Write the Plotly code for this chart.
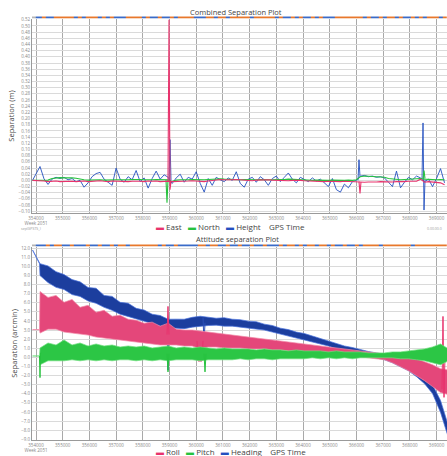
import plotly.graph_objects as go

# ---------------- data: Combined Separation Plot (m) ----------------
TIME_SEP = [353870,
    354150, 354300, 354450, 354600, 354750, 354900, 355050, 355200, 355350, 355500,
    355650, 355800, 355950, 356100, 356250, 356400, 356550, 356700, 356850, 357000,
    357150, 357300, 357450, 357600, 357750, 357900, 358050, 358200, 358350, 358500,
    358650, 358800, 358950, 359100, 359250, 359400, 359550, 359700, 359850, 360000,
    360150, 360300, 360450, 360600, 360750, 360900, 361050, 361200, 361350, 361500,
    361650, 361800, 361950, 362100, 362250, 362400, 362550, 362700, 362850, 363000,
    363150, 363300, 363450, 363600, 363750, 363900, 364050, 364200, 364350, 364500,
    364650, 364800, 364950, 365100, 365250, 365400, 365550, 365700, 365850, 366000,
    366150, 366300, 366450, 366600, 366750, 366900, 367050, 367200, 367350, 367500,
    367650, 367800, 367950, 368100, 368250, 368400, 368550, 368700, 368850, 369000,
    369150, 369300]

EAST = [0.0,
    0.000, -0.002, -0.004, -0.003, -0.002, -0.004, -0.003, -0.002, -0.003, -0.004,
    -0.003, -0.002, -0.004, -0.003, -0.002, -0.001, -0.003, -0.004, -0.002, -0.003,
    -0.002, -0.003, -0.004, -0.003, -0.002, -0.003, -0.004, -0.002, -0.003, -0.002,
    -0.004, -0.003, -0.003, -0.004, -0.004, -0.002, -0.003, -0.002, -0.001, -0.002,
    -0.003, -0.004, -0.002, 0.000, 0.002, 0.003, 0.002, 0.001, 0.002, 0.003,
    0.002, 0.001, 0.000, -0.001, 0.001, 0.002, 0.003, 0.002, 0.001, 0.000,
    -0.001, -0.002, -0.001, 0.000, 0.001, 0.000, -0.001, -0.002, -0.003, -0.002,
    -0.003, -0.004, -0.003, -0.004, -0.005, -0.004, -0.003, -0.004, -0.003, -0.004,
    -0.005, -0.006, -0.005, -0.006, -0.005, -0.004, -0.005, -0.006, -0.005, -0.004,
    -0.005, -0.004, -0.003, -0.004, -0.003, 0.004, -0.006, -0.004, -0.005, -0.006,
    -0.008, -0.014]

NORTH = [0.0,
    0.000, 0.002, 0.001, 0.006, 0.008, 0.009, 0.008, 0.009, 0.008, 0.007,
    0.004, 0.002, 0.001, 0.002, 0.003, 0.002, 0.001, 0.002, 0.003, 0.002,
    0.002, 0.001, 0.002, 0.003, 0.004, 0.003, 0.002, 0.001, 0.002, 0.003,
    0.002, 0.001, 0.002, -0.004, 0.001, 0.002, 0.001, 0.002, 0.003, 0.002,
    0.001, 0.002, 0.003, 0.004, 0.004, 0.005, 0.004, 0.003, 0.004, 0.003,
    0.002, 0.003, 0.002, 0.001, 0.002, 0.003, 0.002, 0.001, 0.002, 0.003,
    0.002, 0.003, 0.004, 0.003, 0.002, 0.003, 0.002, 0.001, 0.000, 0.001,
    0.000, -0.001, 0.000, 0.001, 0.000, -0.001, 0.000, 0.001, 0.000, 0.002,
    0.012, 0.014, 0.013, 0.012, 0.013, 0.012, 0.010, 0.006, 0.004, 0.003,
    0.002, 0.003, 0.004, 0.005, 0.006, 0.006, 0.004, 0.003, 0.002, 0.002,
    0.003, 0.002]

HEIGHT = [0.0,
    0.045, 0.005, -0.013, 0.004, 0.010, 0.006, 0.010, 0.002, 0.006, -0.004,
    0.000, -0.022, -0.008, 0.012, 0.022, 0.026, 0.004, -0.006, -0.016, 0.040,
    0.004, -0.006, 0.012, 0.002, 0.032, -0.004, 0.008, -0.025, 0.006, 0.030,
    0.004, 0.018, 0.010, -0.010, 0.008, 0.020, -0.006, 0.010, 0.004, 0.028,
    -0.010, -0.038, 0.006, -0.016, 0.010, 0.002, -0.004, 0.008, 0.000, 0.028,
    -0.010, -0.022, 0.004, 0.010, -0.006, 0.012, 0.002, -0.016, 0.006, 0.014,
    -0.004, 0.010, 0.024, 0.004, -0.008, 0.010, 0.002, -0.004, 0.008, -0.002,
    0.004, -0.008, -0.020, 0.006, -0.030, -0.038, -0.012, -0.024, -0.004, 0.000,
    0.014, 0.016, 0.012, 0.014, 0.010, 0.012, 0.008, -0.006, -0.020, 0.030,
    -0.024, -0.006, 0.010, 0.002, 0.014, 0.008, -0.004, 0.004, -0.020, 0.006,
    0.038, -0.008]

# isolated spikes (GPS time, value)
EAST_SPIKE_T = [358943, 358981, 359018, 359056, None, 366096, 366134, 366171]
EAST_SPIKE_V = [-0.003, 0.520, -0.030, -0.003, None, -0.004, -0.042, -0.005]
NORTH_SPIKE_T = [358868, 358906, 358943, None, 368494, 368531, 368568]
NORTH_SPIKE_V = [0.002, -0.072, 0.002, None, 0.006, 0.032, 0.006]
HEIGHT_SPIKE_T = [358981, 359018, 359056, None, 366059, 366096, 366134, None,
                  368456, 368494, 368531, 368568]
HEIGHT_SPIKE_V = [0.0, 0.132, 0.0, None, 0.0, 0.067, 0.012, None,
                  0.005, 0.186, -0.096, 0.0]

# solution quality strip (0 = fixed/orange, 1 = float/blue, 2 = none)
QUALITY_TOP = [2,
    1, 0, 1, 1, 0, 0, 0, 0, 0, 1, 0, 1, 0, 0, 0, 1, 0, 1, 0, 1,
    1, 1, 0, 0, 0, 0, 1, 0, 1, 1, 0, 1, 1, 0, 1, 0, 0, 0, 0, 1,
    1, 1, 0, 0, 1, 0, 0, 1, 0, 0, 0, 0, 0, 1, 0, 0, 0, 0, 0, 1,
    0, 1, 1, 0, 1, 0, 1, 1, 0, 1, 0, 1, 1, 1, 0, 0, 0, 0, 0, 0,
    0, 1, 0, 1, 1, 0, 1, 0, 0, 1, 0, 1, 1, 0, 1, 0, 1, 0, 0, 0,
    1, 0]
QUALITY_BOTTOM = [2,
    1, 1, 0, 1, 0, 0, 1, 1, 0, 1, 1, 1, 0, 1, 1, 0, 1, 1, 0, 1,
    0, 0, 1, 0, 0, 0, 0, 0, 0, 0, 1, 0, 1, 1, 0, 1, 1, 1, 1, 1,
    0, 0, 1, 0, 0, 1, 1, 0, 1, 1, 0, 1, 1, 0, 1, 1, 0, 1, 1, 1,
    0, 1, 0, 0, 1, 0, 1, 0, 0, 1, 0, 0, 1, 0, 1, 1, 0, 1, 1, 0,
    1, 0, 0, 0, 0, 1, 0, 0, 0, 0, 0, 0, 0, 1, 0, 0, 0, 0, 0, 0,
    0, 0]

# ---------------- data: Attitude separation Plot (arcmin) ----------------
TIME_ATT = [353870, 354131,
    354150, 354450, 354750, 355050, 355350, 355650, 355950, 356250, 356550, 356850,
    357150, 357450, 357750, 358050, 358350, 358650, 358950, 359250, 359550, 359850,
    360150, 360450, 360750, 361050, 361350, 361650, 361950, 362250, 362550, 362850,
    363150, 363450, 363750, 364050, 364350, 364650, 364950, 365250, 365550, 365850,
    366150, 366450, 366750, 367050, 367350, 367650, 367950, 368250, 368550, 368850,
    369150, 369450]

HEADING_HI = [11.8, 10.3,
    10.30, 10.05, 9.42, 9.10, 8.55, 8.30, 7.68, 7.60, 6.81, 6.70,
    6.05, 5.95, 5.39, 5.20, 4.74, 4.60, 4.19, 4.20, 4.19, 4.40,
    4.52, 4.41, 4.30, 4.36, 4.19, 4.14, 3.98, 3.92, 3.65, 3.50,
    3.21, 3.05, 2.78, 2.62, 2.34, 2.08, 1.80, 1.52, 1.25, 1.08,
    0.82, 0.64, 0.49, 0.30, -0.05, -0.38, -0.82, -1.36, -2.02, -3.00,
    -4.74, -7.57]
HEADING_LO = [11.8, 10.3,
    8.99, 8.22, 7.70, 7.46, 6.90, 6.70, 6.20, 5.94, 5.50, 5.17,
    4.75, 4.52, 4.22, 3.98, 3.70, 3.43, 3.25, 3.21, 3.15, 3.32,
    3.43, 3.50, 3.54, 3.43, 3.43, 3.32, 3.21, 3.10, 3.00, 2.78,
    2.56, 2.34, 2.12, 1.91, 1.69, 1.47, 1.25, 0.93, 0.71, 0.49,
    0.27, 0.05, -0.05, -0.27, -0.60, -1.03, -1.47, -2.12, -2.89, -3.98,
    -6.05, -8.88]

ROLL_HI = [3.05, 3.05,
    7.24, 6.59, 6.81, 6.05, 6.37, 5.50, 5.72, 4.96, 5.17, 4.52,
    4.63, 4.19, 4.08, 3.76, 3.87, 3.43, 3.76, 3.10, 3.00, 3.00,
    2.89, 2.78, 2.67, 2.56, 2.45, 2.34, 2.23, 2.12, 2.02, 1.91,
    1.80, 1.69, 1.58, 1.47, 1.36, 1.25, 1.14, 1.03, 0.93, 0.82,
    0.71, 0.60, 0.49, 0.38, 0.27, 0.16, -0.05, -0.16, -0.49, -0.82,
    -1.25, -1.40]
ROLL_LO = [3.05, 3.05,
    2.67, 3.10, 3.10, 2.78, 2.67, 2.56, 2.45, 2.23, 2.12, 2.02,
    1.91, 1.80, 1.69, 1.58, 1.47, 1.36, 1.36, 1.36, 1.25, 1.25,
    0.93, 1.14, 1.14, 1.03, 1.03, 1.03, 0.93, 0.93, 0.93, 0.82,
    0.82, 0.71, 0.71, 0.60, 0.60, 0.49, 0.49, 0.38, 0.27, 0.16,
    0.05, -0.05, -0.16, -0.27, -0.60, -1.03, -1.47, -2.02, -2.56, -3.21,
    -3.87, -4.10]

PITCH_HI = [0.15, 0.15,
    1.03, 1.58, 1.36, 1.91, 1.36, 1.58, 1.25, 1.47, 1.25, 1.36,
    1.14, 1.25, 1.14, 1.25, 1.03, 1.14, 1.25, 1.03, 1.14, 1.03,
    1.14, 1.03, 0.93, 1.03, 0.93, 0.93, 0.93, 0.82, 0.93, 0.82,
    0.82, 0.71, 0.82, 0.71, 0.71, 0.71, 0.60, 0.71, 0.60, 0.60,
    0.60, 0.49, 0.49, 0.49, 0.60, 0.60, 0.71, 0.82, 0.93, 1.14,
    1.47, 0.93]
PITCH_LO = [0.15, 0.15,
    -0.82, -0.38, -0.38, -0.38, -0.27, -0.38, -0.27, -0.38, -0.27, -0.38,
    -0.27, -0.27, -0.38, -0.27, -0.38, -0.27, -0.38, -0.27, -0.27, -0.27,
    -0.38, -0.27, -0.27, -0.27, -0.27, -0.16, -0.27, -0.16, -0.16, -0.27,
    -0.16, -0.16, -0.16, -0.16, -0.05, -0.16, -0.05, -0.16, -0.05, -0.16,
    -0.05, -0.05, -0.05, -0.05, -0.05, -0.16, -0.16, -0.27, -0.38, -0.60,
    -0.82, -0.38]

ROLL_SPIKE_T = [358906, 358943, 358981, None, 360030, 360067, 360217, 360254, None,
                369205, 369242, 369280, 369317, 369430]
ROLL_SPIKE_V = [2.5, 5.6, 2.5, None, 1.8, -0.4, -0.4, 1.8, None,
                -3.5, 4.5, -4.4, 0.16, 0.16]
PITCH_SPIKE_T = [354131, 354150, 354170, None, 358906, 358943, 358981, None,
                 360292, 360329, 360367]
PITCH_SPIKE_V = [0.15, -2.23, 0.5, None, 0.4, -1.6, 0.4, None, 0.4, -1.6, 0.4]
HEADING_SPIKE_T = [358906, 358943, 358981, None, 360254, 360292, 360329]
HEADING_SPIKE_V = [3.5, -1.4, 3.5, None, 4.4, 1.5, 3.8]

X_TICK_VALS = [354000, 355000, 356000, 357000, 358000, 359000, 360000, 361000,
               362000, 363000, 364000, 365000, 366000, 367000, 368000, 369000]
X_TICK_TEXT = ["354000<br>Week 2051", "355000", "356000", "357000", "358000",
               "359000", "360000", "361000", "362000", "363000", "364000",
               "365000", "366000", "367000", "368000", "369000"]

TOP_NAMES = ["East", "North", "Height"]
BOTTOM_NAMES = ["Roll", "Pitch", "Heading"]
RED, GREEN, BLUE = "#e8336d", "#26c23e", "#2450bf"
FONT = "Open Sans"

fig = go.Figure()

# ---- top chart ----
fig.add_trace(go.Scatter(x=TIME_SEP, y=HEIGHT, mode="lines", name="Height",
                         line=dict(color=BLUE, width=0.9), xaxis="x", yaxis="y"))
fig.add_trace(go.Scatter(x=HEIGHT_SPIKE_T, y=HEIGHT_SPIKE_V, mode="lines",
                         line=dict(color=BLUE, width=0.9), xaxis="x", yaxis="y"))
fig.add_trace(go.Scatter(x=TIME_SEP, y=NORTH, mode="lines", name="North",
                         line=dict(color=GREEN, width=1.1), xaxis="x", yaxis="y"))
fig.add_trace(go.Scatter(x=NORTH_SPIKE_T, y=NORTH_SPIKE_V, mode="lines",
                         line=dict(color=GREEN, width=1.1), xaxis="x", yaxis="y"))
fig.add_trace(go.Scatter(x=TIME_SEP, y=EAST, mode="lines", name="East",
                         line=dict(color=RED, width=1.1), xaxis="x", yaxis="y"))
fig.add_trace(go.Scatter(x=EAST_SPIKE_T, y=EAST_SPIKE_V, mode="lines",
                         line=dict(color=RED, width=1.1), xaxis="x", yaxis="y"))

# ---- bottom chart (noise bands) ----
def band(hi, lo, edge, fill, name):
    fig.add_trace(go.Scatter(x=TIME_ATT, y=hi, mode="lines", name=name,
                             line=dict(color=edge, width=0.7), xaxis="x2", yaxis="y2"))
    fig.add_trace(go.Scatter(x=TIME_ATT, y=lo, mode="lines", fill="tonexty",
                             fillcolor=fill, line=dict(color=edge, width=0.7),
                             xaxis="x2", yaxis="y2"))

band(HEADING_HI, HEADING_LO, "#4a72dc", "#1c3e9e", "Heading")
fig.add_trace(go.Scatter(x=HEADING_SPIKE_T, y=HEADING_SPIKE_V, mode="lines",
                         line=dict(color="#2a4fb8", width=1), xaxis="x2", yaxis="y2"))
band(ROLL_HI, ROLL_LO, "#f28aa8", "#e4477a", "Roll")
fig.add_trace(go.Scatter(x=ROLL_SPIKE_T, y=ROLL_SPIKE_V, mode="lines",
                         line=dict(color=RED, width=1), xaxis="x2", yaxis="y2"))
band(PITCH_HI, PITCH_LO, "#6fe07e", "#2cc645", "Pitch")
fig.add_trace(go.Scatter(x=PITCH_SPIKE_T, y=PITCH_SPIKE_V, mode="lines",
                         line=dict(color=GREEN, width=1), xaxis="x2", yaxis="y2"))

# ---- quality strips ----
QCOL = [[0, "#e8782c"], [0.333, "#e8782c"], [0.333, "#3a6bc8"], [0.667, "#3a6bc8"],
        [0.667, "#b5b5b5"], [1, "#b5b5b5"]]
fig.add_trace(go.Heatmap(x=TIME_SEP, y=[0], z=[QUALITY_TOP], zmin=0, zmax=2,
                         colorscale=QCOL, showscale=False, xaxis="x3", yaxis="y3"))
fig.add_trace(go.Heatmap(x=TIME_SEP, y=[0], z=[QUALITY_BOTTOM], zmin=0, zmax=2,
                         colorscale=QCOL, showscale=False, xaxis="x4", yaxis="y4"))

H = 456
def dom(top_px, bottom_px):
    return [1 - bottom_px / H, 1 - top_px / H]

XR = [353850, 369392]
xcommon = dict(range=XR, tickvals=X_TICK_VALS, ticktext=X_TICK_TEXT, showgrid=True,
               gridcolor="#a9a9a9", gridwidth=1, showline=True, linecolor="#9a9a9a",
               ticks="", tickfont=dict(size=4.5, color="#888", family=FONT),
               zeroline=False, domain=[0, 1])
ycommon = dict(showgrid=True, gridcolor="#dadada", gridwidth=1, showline=True,
               linecolor="#9a9a9a", ticks="", zeroline=False,
               tickfont=dict(size=4.5, color="#888", family=FONT))

fig.update_layout(
    width=447, height=456, margin=dict(l=32, r=0, t=0, b=0),
    paper_bgcolor="white", plot_bgcolor="white", showlegend=False,
    font=dict(family=FONT, color="#444"),
    xaxis=dict(anchor="y", **xcommon),
    yaxis=dict(anchor="x", domain=dom(17, 213), range=[-0.106, 0.523], dtick=0.02,
               tick0=0, tickformat=".2f",
               title=dict(text="Separation (m)", font=dict(size=7.5, color="#444"),
                          standoff=2), **ycommon),
    xaxis2=dict(anchor="y2", **xcommon),
    yaxis2=dict(anchor="x2", domain=dom(247, 442), range=[-9.10, 12.15], dtick=1,
                tick0=0, tickformat=".1f",
                title=dict(text="Separation (arcmin)", font=dict(size=7.5, color="#444"),
                           standoff=2), **ycommon),
    xaxis3=dict(anchor="y3", matches="x", visible=False),
    yaxis3=dict(anchor="x3", domain=dom(14.5, 17), range=[-0.5, 0.5], visible=False),
    xaxis4=dict(anchor="y4", matches="x2", visible=False),
    yaxis4=dict(anchor="x4", domain=dom(244.5, 247), range=[-0.5, 0.5], visible=False),
)

def px_x(p):
    return (p - 32) / 415

def px_y(p):
    return 1 - p / H

def legend_text(names, colors):
    parts = [f'<span style="color:{c}">▬</span> {n}' for n, c in zip(names, colors)]
    return "&nbsp;&nbsp;&nbsp;".join(parts) + "&nbsp;&nbsp;&nbsp;&nbsp;GPS Time"

ann = [
    dict(text="Combined Separation Plot", x=px_x(236), y=px_y(10), font=dict(size=7.5, color="#444")),
    dict(text="Attitude separation Plot", x=px_x(237), y=px_y(239), font=dict(size=7.5, color="#444")),
    dict(text=legend_text(TOP_NAMES, [RED, GREEN, BLUE]), x=px_x(154), y=px_y(226),
         xanchor="left", font=dict(size=8, color="#444")),
    dict(text=legend_text(BOTTOM_NAMES, [RED, GREEN, BLUE]), x=px_x(154), y=px_y(453),
         xanchor="left", font=dict(size=8, color="#444")),
    dict(text="sep(GPSTS_)", x=px_x(19), y=px_y(228), xanchor="left", font=dict(size=3.5, color="#999")),
    dict(text="0.00.00.0", x=px_x(444), y=px_y(228), xanchor="right", font=dict(size=3.5, color="#999")),
]
for a in ann:
    a.setdefault("xanchor", "center")
    fig.add_annotation(xref="paper", yref="paper", showarrow=False, yanchor="middle", **a)

fig.write_html("out.html", config={"displayModeBar": False},
               post_script="document.body.style.margin='0';document.body.style.overflow='hidden';")
